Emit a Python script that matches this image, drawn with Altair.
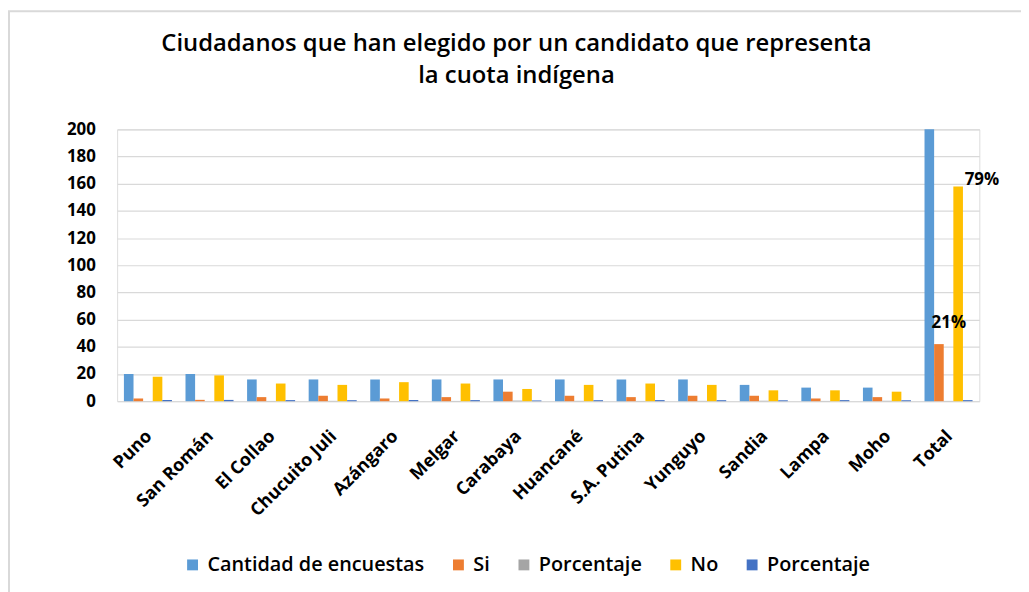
import altair as alt
import pandas as pd

categories = ["Puno", "San Román", "El Collao", "Chucuito Juli", "Azángaro", "Melgar",
              "Carabaya", "Huancané", "S.A. Putina", "Yunguyo", "Sandia", "Lampa", "Moho", "Total"]
encuestas = [20, 20, 16, 16, 16, 16, 16, 16, 16, 16, 12, 10, 10, 200]
si = [2, 1, 3, 4, 2, 3, 7, 4, 3, 4, 4, 2, 3, 42]
pct_si = [0.10, 0.05, 0.19, 0.25, 0.13, 0.19, 0.44, 0.25, 0.19, 0.25, 0.33, 0.20, 0.30, 0.21]
no = [18, 19, 13, 12, 14, 13, 9, 12, 13, 12, 8, 8, 7, 158]
pct_no = [0.90, 0.95, 0.81, 0.75, 0.88, 0.81, 0.56, 0.75, 0.81, 0.75, 0.67, 0.80, 0.70, 0.79]
y_ticks = [0, 20, 40, 60, 80, 100, 120, 140, 160, 180, 200]

series_ids = ["s1", "s2", "s3", "s4", "s5"]
series_names = ["Cantidad de encuestas", "Si", "Porcentaje", "No", "Porcentaje"]
series_colors = ["#5B9BD5", "#ED7D31", "#A5A5A5", "#FFC000", "#4472C4"]
series_values = [encuestas, si, pct_si, no, pct_no]
total_labels = {"s2": "21%", "s4": "79%"}

rows = []
for sid, vals in zip(series_ids, series_values):
    for c, v in zip(categories, vals):
        lab = total_labels.get(sid, "") if c == "Total" else ""
        rows.append({"cat": c, "sid": sid, "value": v, "label": lab})
df = pd.DataFrame(rows)

FONT = "Open Sans"
label_map = "{" + ",".join(f"'{i}':'{n}'" for i, n in zip(series_ids, series_names)) + "}"

x_enc = alt.X("cat:N", sort=categories, title=None,
              scale=alt.Scale(paddingInner=0.22, paddingOuter=0.11),
              axis=alt.Axis(labelAngle=-45, labelAlign="right", labelBaseline="top",
                            labelFontSize=18, labelFontWeight="bold", labelFont=FONT,
                            labelColor="#000000", labelPadding=26, labelOffset=-5,
                            ticks=False, domain=False, grid=False, labelOverlap=False))
y_enc = alt.Y("value:Q", title=None,
              scale=alt.Scale(domain=[0, 200], nice=False),
              axis=alt.Axis(values=y_ticks, labelFontSize=17,
                            labelFontWeight="bold", labelFont=FONT, labelColor="#000000",
                            labelPadding=22, ticks=False, domain=False, labelOverlap=False,
                            grid=True, gridColor="#D9D9D9", gridWidth=1.2))

bars = alt.Chart(df).mark_bar(stroke=None).encode(
    x=x_enc,
    xOffset=alt.XOffset("sid:N", sort=series_ids),
    y=y_enc,
    color=alt.Color("sid:N", sort=series_ids,
                    scale=alt.Scale(domain=series_ids, range=series_colors),
                    legend=alt.Legend(title=None, orient="none", direction="horizontal",
                                      legendX=66, legendY=429, symbolType="square",
                                      symbolSize=120, symbolStrokeWidth=0,
                                      labelExpr=label_map + "[datum.label]",
                                      labelFont=FONT, labelFontSize=20, labelLimit=400,
                                      labelFontWeight=600, labelColor="#000000",
                                      columnPadding=24, labelOffset=5)),
)

def pct_text(sid, dx, dy):
    return alt.Chart(df).transform_filter(
        f"datum.label != '' && datum.sid == '{sid}'"
    ).mark_text(
        font=FONT, fontSize=17, fontWeight="bold", color="#000000", dx=dx, dy=dy
    ).encode(
        x=x_enc,
        xOffset=alt.XOffset("sid:N", sort=series_ids),
        y=y_enc,
        text="label:N",
    )

text_si = pct_text("s2", 10, -21)
text_no = pct_text("s4", 24, -6)

frame = alt.Chart(pd.DataFrame({"k": [0]})).mark_rect(
    fill=None, stroke="#D9D9D9", strokeWidth=2
).encode(x=alt.value(-109), x2=alt.value(960), y=alt.value(-119), y2=alt.value(500))

chart = alt.layer(frame, bars, text_si, text_no).properties(
    width=869, height=274,
    autosize=alt.AutoSizeParams(type="none"),
    padding={"left": 110, "top": 120, "right": 42, "bottom": 190},
    title=alt.TitleParams(
        ["Ciudadanos que han elegido por un candidato que representa", "la cuota indígena"],
        font=FONT, fontSize=24, fontWeight=600, color="#000000",
        anchor="middle", frame="group", dx=-32, offset=-78, lineHeight=32),
).configure_view(stroke=None).configure(background="#FFFFFF")

chart.save("out.html", embed_options={"renderer": "svg", "actions": False})
